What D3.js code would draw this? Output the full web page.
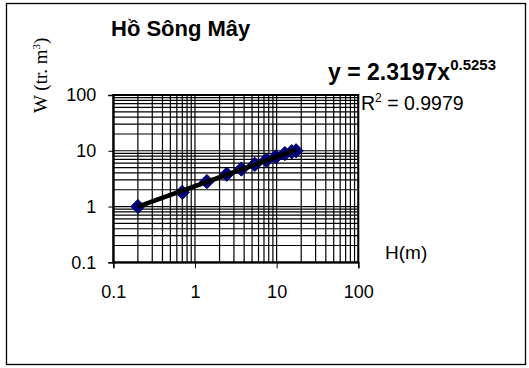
<!DOCTYPE html>
<html>
<head>
<meta charset="utf-8">
<script src="https://cdn.jsdelivr.net/npm/d3@7"></script>
<style>
  body { margin: 0; background: #fff; }
  svg { display: block; }
  .tick text { font-family: Arial, "Liberation Sans", sans-serif; font-size: 18px; fill: #000; }
</style>
</head>
<body>
<script>
// số liệu: H (m) và W (triệu m3)
var H = [0.2, 0.7, 1.4, 2.45, 3.7, 5.4, 7.5, 9.8, 12.6, 15.3, 17.3];
var W = [1.0, 1.8, 2.8, 3.8, 4.7, 5.7, 6.8, 7.8, 8.9, 9.6, 10.0];
var xTicks = [0.1, 1, 10, 100];
var yTicks = [0.1, 1, 10, 100];
// hệ số đường xu hướng (power)
var fitA = 2.3197, fitB = 0.5253;

var width = 529, height = 368;
var svg = d3.select("body").append("svg").attr("width", width).attr("height", height);

// khung ngoài
svg.append("rect").attr("x", 6.5).attr("y", 3.5).attr("width", 519).attr("height", 361)
    .attr("fill", "white").attr("stroke", "black").attr("stroke-width", 1.3);

var x = d3.scaleLog().domain([0.1, 100]).range([113.3, 358.3]);
var y = d3.scaleLog().domain([0.1, 100]).range([262.3, 95]);

// lưới: mọi bội 1..9 của mỗi thập phân
var gridX = [], gridY = [];
[0.1, 1, 10].forEach(function (d) {
    for (var k = 1; k <= 9; k++) { gridX.push(d * k); gridY.push(d * k); }
});
gridX.push(100); gridY.push(100);

var grid = svg.append("g").attr("stroke", "black").attr("stroke-width", 1.2);
grid.selectAll("vline").data(gridX).enter().append("line")
    .attr("x1", function (d) { return x(d); }).attr("x2", function (d) { return x(d); })
    .attr("y1", y(100)).attr("y2", y(0.1));
grid.selectAll("hline").data(gridY).enter().append("line")
    .attr("y1", function (d) { return y(d); }).attr("y2", function (d) { return y(d); })
    .attr("x1", x(0.1)).attr("x2", x(100));

// khung vùng vẽ
svg.append("rect").attr("x", x(0.1)).attr("y", y(100))
    .attr("width", x(100) - x(0.1)).attr("height", y(0.1) - y(100))
    .attr("fill", "none").attr("stroke", "black").attr("stroke-width", 2);

// trục
var xAxis = svg.append("g").attr("transform", "translate(0," + y(0.1) + ")")
    .call(d3.axisBottom(x).tickValues(xTicks).tickSize(6).tickPadding(17)
        .tickFormat(function (d) { return d; }));
var yAxis = svg.append("g").attr("transform", "translate(" + x(0.1) + ",0)")
    .call(d3.axisLeft(y).tickValues(yTicks).tickSize(5).tickPadding(12)
        .tickFormat(function (d) { return d; }));
[xAxis, yAxis].forEach(function (a) {
    a.select(".domain").attr("stroke", "black").attr("stroke-width", 1.5);
    a.selectAll(".tick line").attr("stroke", "black");
});

// điểm số liệu (hình thoi)
var pts = H.map(function (h, i) { return { h: h, w: W[i] }; });
svg.append("g").selectAll("pts").data(pts).enter().append("path")
    .attr("d", d3.symbol().type(d3.symbolDiamond2).size(130))
    .attr("transform", function (d) { return "translate(" + x(d.h) + "," + y(d.w) + ")"; })
    .attr("fill", "#000080").attr("stroke", "#00005a").attr("stroke-width", 1);

// đường xu hướng y = a x^b (thẳng trên thang log-log)
var hExt = d3.extent(H);
var trend = hExt.map(function (h) { return [h, fitA * Math.pow(h, fitB)]; });
svg.append("path").datum(trend)
    .attr("d", d3.line().x(function (d) { return x(d[0]); }).y(function (d) { return y(d[1]); }))
    .attr("fill", "none").attr("stroke", "black").attr("stroke-width", 4.5);

// tiêu đề
svg.append("text").attr("x", 111).attr("y", 36).text("Hồ Sông Mây")
    .attr("font-family", "Arial, 'Liberation Sans', sans-serif").attr("font-size", 22)
    .attr("font-weight", "bold");

// phương trình
var eq = svg.append("text").attr("x", 328).attr("y", 80)
    .attr("font-family", "Arial, 'Liberation Sans', sans-serif").attr("font-size", 23)
    .attr("font-weight", "bold");
eq.append("tspan").text("y = " + fitA + "x");
eq.append("tspan").attr("dy", -10).attr("font-size", 15).text(fitB);

var r2 = svg.append("text").attr("x", 361).attr("y", 110)
    .attr("font-family", "Arial, 'Liberation Sans', sans-serif").attr("font-size", 19.5);
r2.append("tspan").text("R");
r2.append("tspan").attr("dy", -8).attr("font-size", 12).text("2");
r2.append("tspan").attr("dy", 8).text(" = 0.9979");

// nhãn trục
svg.append("text").attr("x", 385).attr("y", 259).text("H(m)")
    .attr("font-family", "Arial, 'Liberation Sans', sans-serif").attr("font-size", 19);

var yl = svg.append("text").attr("transform", "translate(47,113) rotate(-90)")
    .attr("font-family", "'Liberation Serif', 'Times New Roman', serif").attr("font-size", 19);
yl.append("tspan").text("W (tr. m");
yl.append("tspan").attr("dy", -7).attr("font-size", 11).text("3");
yl.append("tspan").attr("dy", 7).text(")");
</script>
</body>
</html>
